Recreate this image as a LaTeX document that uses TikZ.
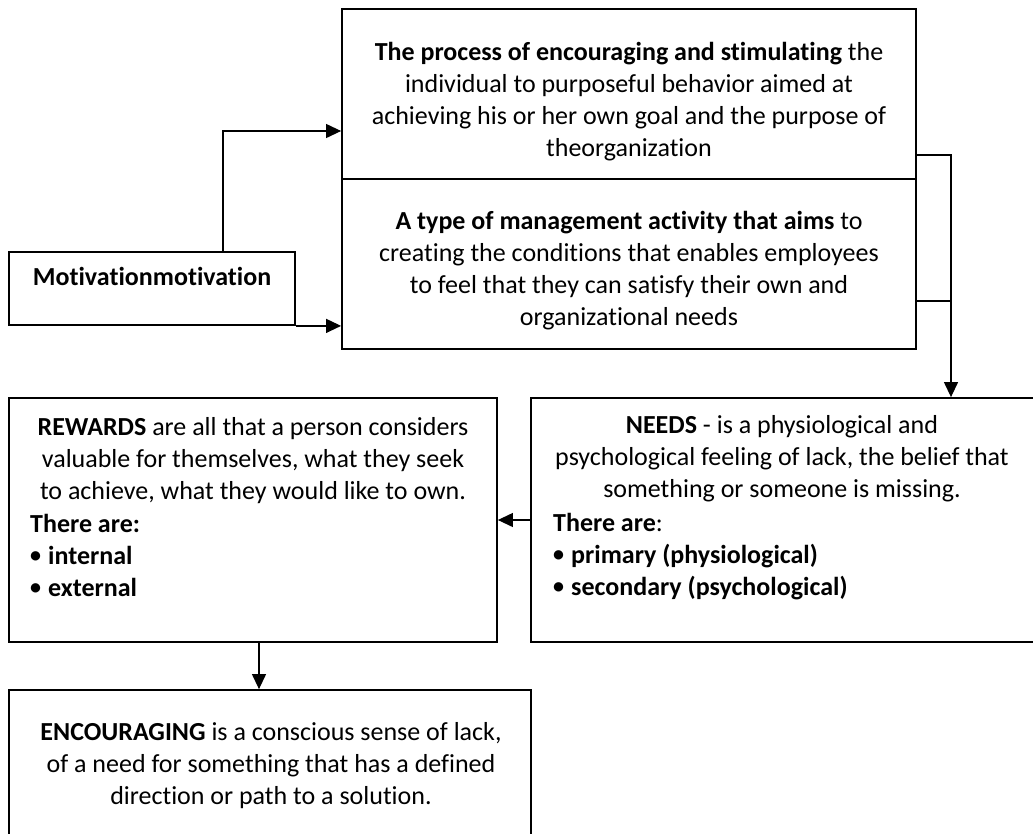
\documentclass[tikz,border=0pt]{standalone}
\usepackage{fontspec}
\setmainfont[Ligatures={NoCommon,NoContextual}]{Carlito}
\usetikzlibrary{arrows.meta}

% bullet followed by a fixed indent
\newcommand\lbul{\makebox[18pt][l]{\raisebox{1.6pt}{\fontsize{22}{32}\selectfont\textbf{•}}}}

\tikzset{
  box/.style={draw=black, line width=1.8pt, inner sep=0pt, fill=none},
  txt/.style={inner sep=0pt, align=center, font=\fontsize{26}{32}\selectfont},
  lst/.style={inner sep=0pt, align=left, font=\fontsize{26}{32}\selectfont, anchor=north west},
  conn/.style={draw=black, line width=1.2pt},
  arr/.style={conn, -{Triangle[length=15pt,width=14pt]}}
}

\begin{document}
\begin{tikzpicture}[x=1pt,y=-1pt]
  \useasboundingbox (0,0) rectangle (1033,833);
  \clip (0,0) rectangle (1033,833);

  % boxes
  \node[box, minimum width=286pt, minimum height=73pt]  (mot)   at (152,288.5) {};
  \node[box, minimum width=574pt, minimum height=170pt] (proc)  at (629,94)    {};
  \node[box, minimum width=574pt, minimum height=170pt] (aim)   at (629,264)   {};
  \node[box, minimum width=505pt, minimum height=244pt] (needs) at (783.5,520) {};
  \node[box, minimum width=488pt, minimum height=244pt] (rew)   at (253,520)   {};
  \node[box, minimum width=522pt, minimum height=180pt] (enc)   at (270,780)   {};

  % texts
  \node[txt, anchor=base] (mottxt) at (152,285) {\textbf{Motivationmotivation}};

  \node[txt, anchor=north] (proctxt) at (629,37.6) {\strut\textbf{The process of encouraging and stimulating} the\\
    individual to purposeful behavior aimed at\\
    achieving his or her own goal and the purpose of\\
    theorganization};

  \node[txt, anchor=north] (aimtxt) at (629,206.6) {\strut\textbf{A type of management activity that aims} to\\
    creating the conditions that enables employees\\
    to feel that they can satisfy their own and\\
    organizational needs};

  \node[txt, anchor=north] (rewtxt) at (253,412.6) {\strut\textbf{REWARDS} are all that a person considers\\
    valuable for themselves, what they seek\\
    to achieve, what they would like to own.};
  \node[lst] (rewlist) at (30,509.6) {\strut\textbf{There are:}\\
    \lbul\textbf{internal}\\
    \lbul\textbf{external}};

  \node[txt, anchor=north] (needstxt) at (782,410.6) {\strut\textbf{NEEDS} - is a physiological and\\
    psychological feeling of lack, the belief that\\
    something or someone is missing.};
  \node[lst] (needslist) at (553,508.6) {\strut\textbf{There are}:\\
    \lbul\textbf{primary (physiological)}\\
    \lbul\textbf{secondary (psychological)}};

  \node[txt, anchor=north] (enctxt) at (271,717.6) {\strut\textbf{ENCOURAGING} is a conscious sense of lack,\\
    of a need for something that has a defined\\
    direction or path to a solution.};

  % connector corners
  \coordinate (c1) at (223,131);
  \coordinate (c2) at (951,155);
  \coordinate (c3) at (951,301);
  \coordinate (c4) at (259,642);

  % connectors
  \draw[arr] (mot.north -| c1) -- (c1) -- (c1 -| proc.west);
  \draw[arr] (mot.south east) -- (mot.south east -| aim.west);
  \draw[arr] (proc.east |- c2) -- (c2) -- (c2 |- needs.north);
  \draw[conn] (aim.east |- c3) -- (c3);
  \draw[arr] (needs.west) -- (rew.east);
  \draw[arr] (rew.south -| c4) -- (c4 |- enc.north);
\end{tikzpicture}
\end{document}
